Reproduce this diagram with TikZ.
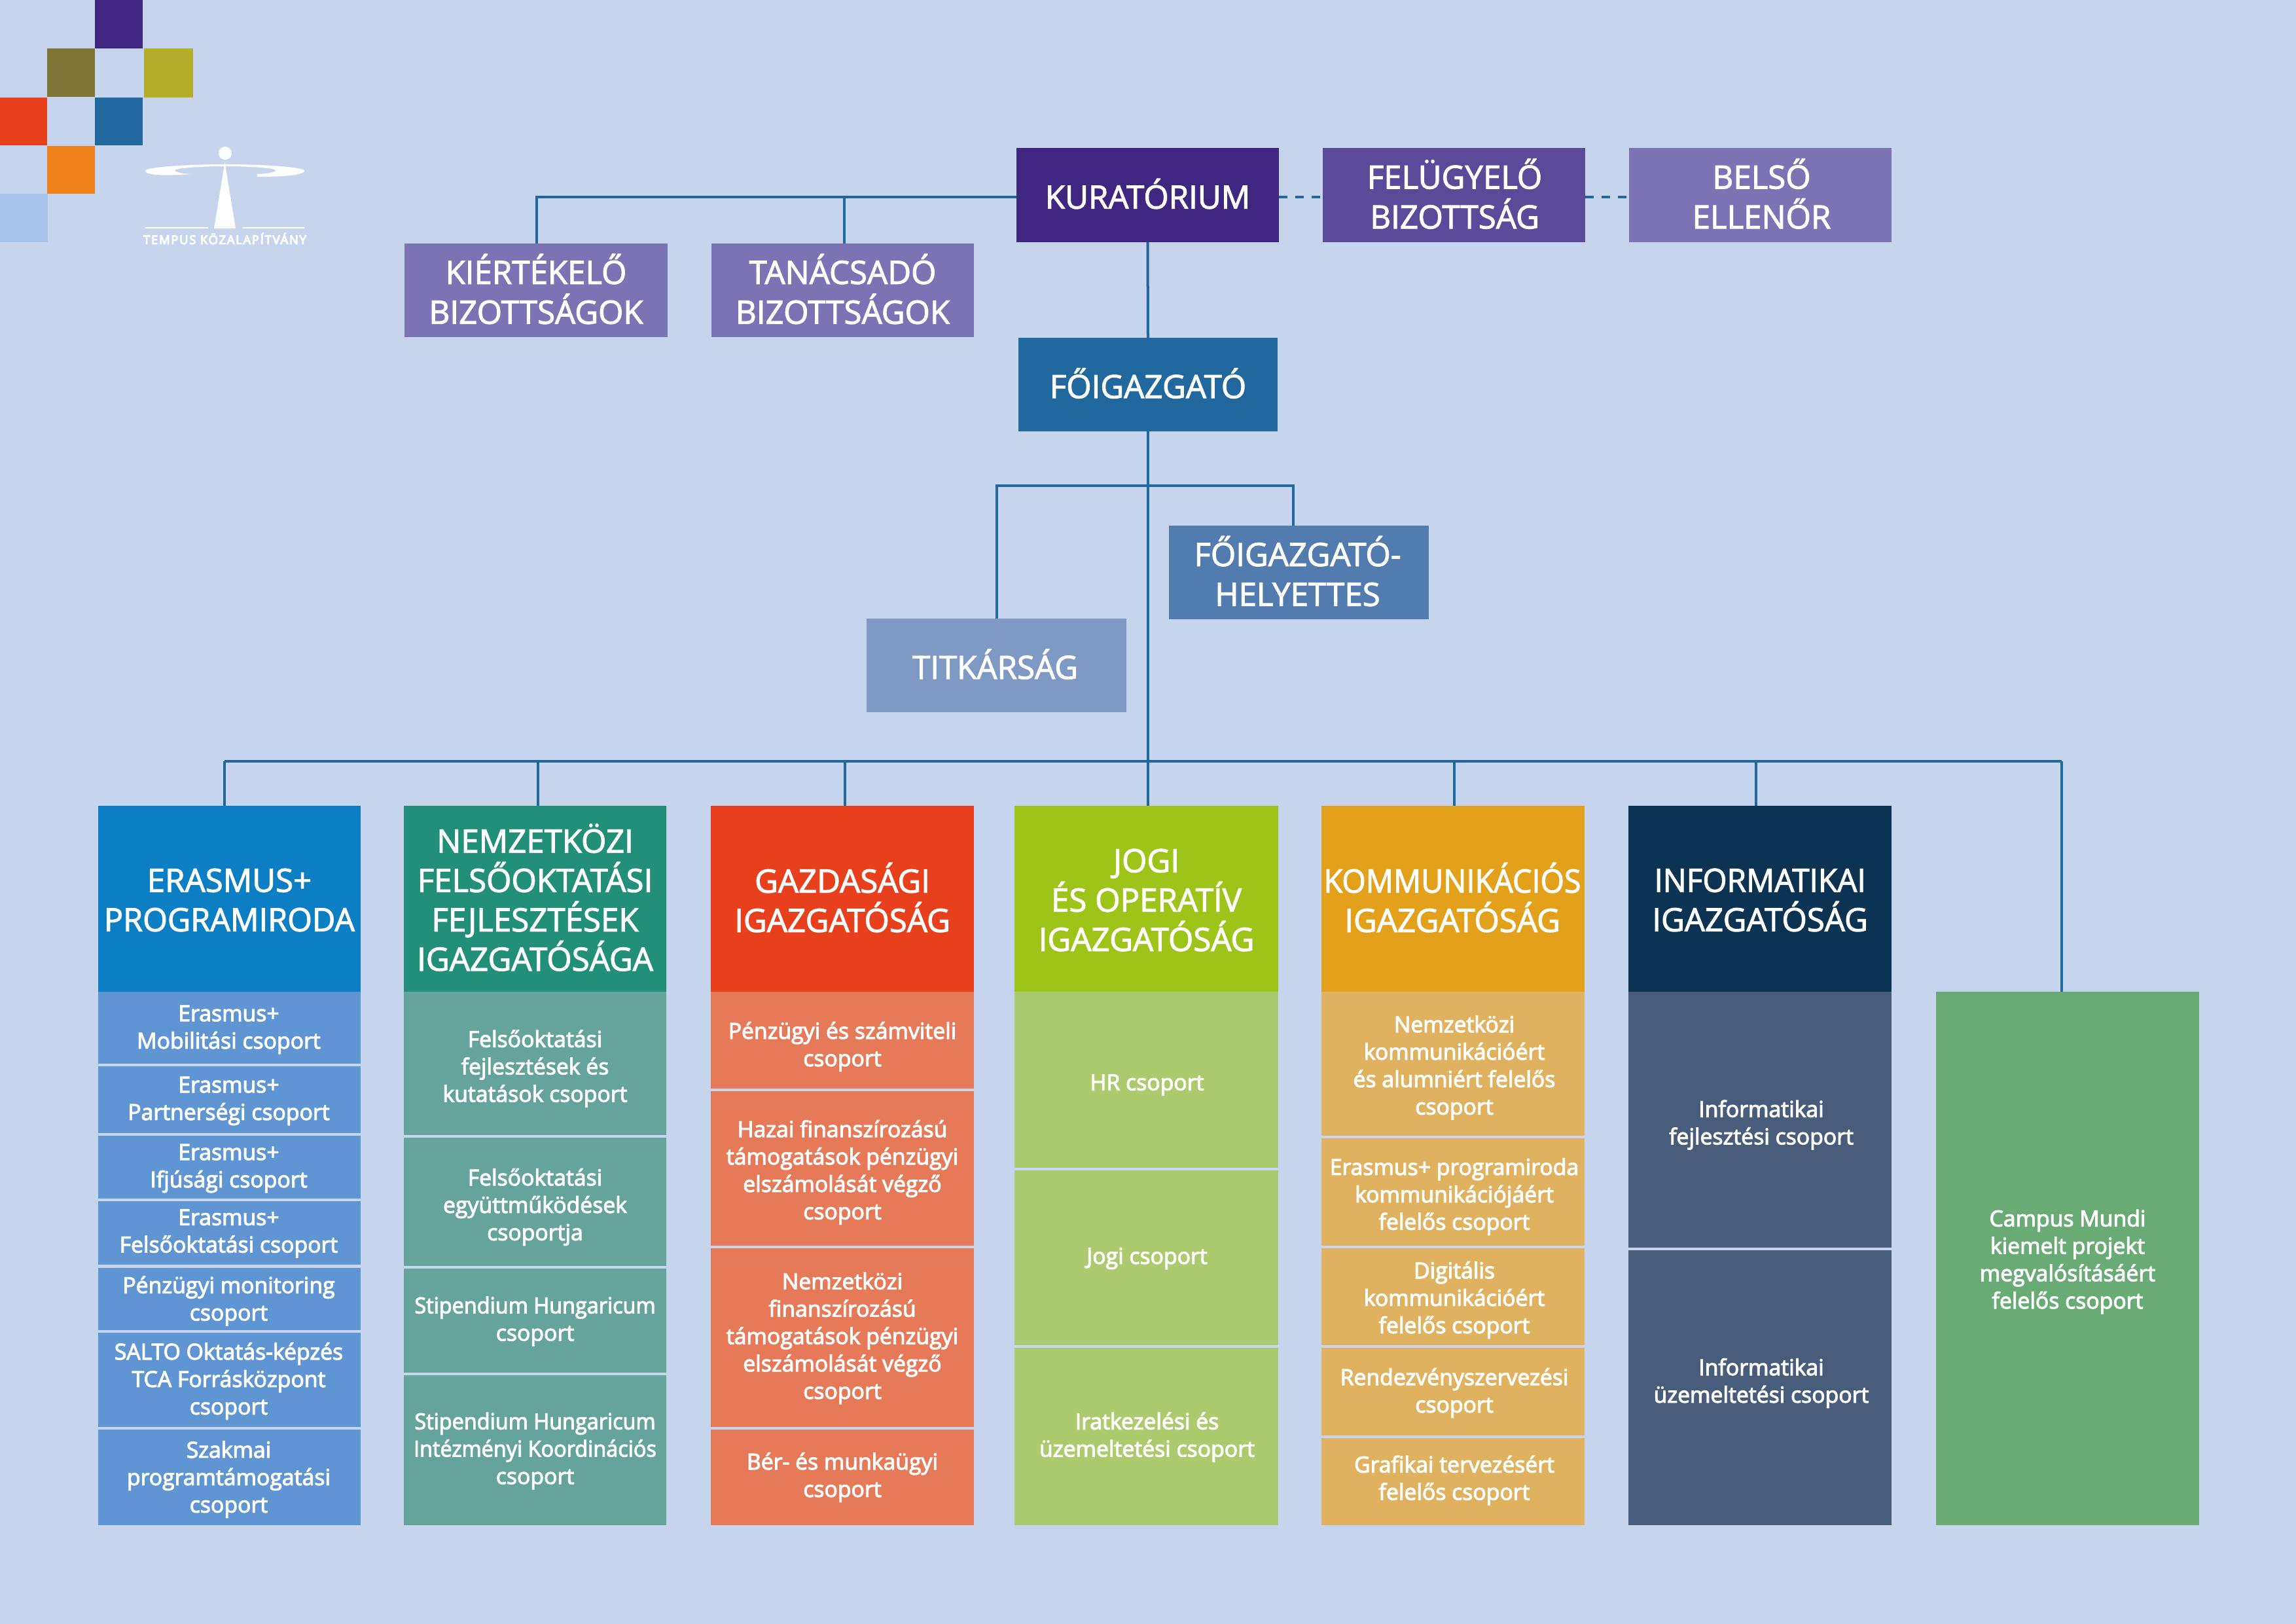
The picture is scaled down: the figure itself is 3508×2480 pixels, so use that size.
\documentclass[tikz,border=0pt]{standalone}
\usepackage{fontspec}
\setmainfont{Open Sans}
\usetikzlibrary{calc}
\definecolor{bgc}{HTML}{C6D4EE}
\definecolor{line}{HTML}{20689D}
\definecolor{kurc}{HTML}{3F2781}
\definecolor{felc}{HTML}{5B4A99}
\definecolor{belc}{HTML}{7C73B5}
\definecolor{foc}{HTML}{20689D}
\definecolor{helc}{HTML}{527CAF}
\definecolor{titc}{HTML}{7D99C4}
\definecolor{hA}{HTML}{0C7EC3}\definecolor{sA}{HTML}{5E95D2}
\definecolor{hB}{HTML}{228F78}\definecolor{sB}{HTML}{64A49A}
\definecolor{hC}{HTML}{E8401C}\definecolor{sC}{HTML}{E57958}
\definecolor{hD}{HTML}{9EC41A}\definecolor{sD}{HTML}{ADCB6E}
\definecolor{hE}{HTML}{E3A11B}\definecolor{sE}{HTML}{E0B25F}
\definecolor{hF}{HTML}{0C3452}\definecolor{sF}{HTML}{485D7B}
\definecolor{sG}{HTML}{69AB74}
\definecolor{sqolive}{HTML}{807536}
\definecolor{sqyel}{HTML}{B3AD28}
\definecolor{sqor}{HTML}{F0831E}
\definecolor{sqlb}{HTML}{A7C3E8}
\tikzset{
  areabox/.style={inner sep=0pt,outer sep=0pt},
  boxbase/.style={inner sep=0pt,outer sep=0pt,align=center,text=white},
  topbox/.style={boxbase,font=\fontsize{14}{17.3}\selectfont},
  headbox/.style={boxbase,font=\fontsize{14}{17.1}\selectfont},
  subbox/.style={boxbase,font=\fontsize{9.6}{11.9}\selectfont},
  conn/.style={draw=line,line width=0.04cm},
  dashconn/.style={conn,dash pattern=on 0.13cm off 0.12cm},
}
\newcommand{\strkon}{\special{pdf:code 2 Tr 0.3 w 1 1 1 RG}}
\newcommand{\strkoff}{\special{pdf:code 0 Tr}}
% \rb{name}{style}{fill}{x1}{y1}{x2}{y2}{dx,dy}{text}
\newcommand{\rb}[9]{\pgfmathsetmacro{\wdt}{#6-#4}\pgfmathsetmacro{\hgt}{#7-#5}%
  \node[areabox,fill=#3,minimum width=\wdt*0.01cm,minimum height=\hgt*0.01cm] (#1) at ({(#4+#6)/2},{(#5+#7)/2}) {};%
  \node[#2] (#1t) at ($(#1.center)+(#8)$) {\strkon #9\strkoff};}
\begin{document}
\begin{tikzpicture}[x=0.01cm,y=-0.01cm]
\useasboundingbox (0,0) rectangle (3508,2480);
\fill[bgc] (-10,-10) rectangle (3518,2490);
% logo squares
\fill[kurc] (145,0) rectangle (218,74);
\fill[sqolive] (72,74) rectangle (145,148);
\fill[sqyel] (220,74) rectangle (295,149);
\fill[hC] (0,149) rectangle (72,222);
\fill[foc] (145,149) rectangle (218,222);
\fill[sqor] (72,223) rectangle (145,296);
\fill[sqlb] (0,296) rectangle (73,370);
% logo figure
\fill[white] (344,234) circle (10);
\fill[white] (291,266) .. controls (240,270) and (222,266) .. (222,261)
  .. controls (222,255) and (290,251) .. (344,251)
  .. controls (398,251) and (465,255) .. (465,261)
  .. controls (465,266) and (445,270) .. (393,270)
  -- (393,266) .. controls (410,265) and (421,263) .. (421,260)
  .. controls (421,257) and (385,254) .. (344,254)
  .. controls (303,254) and (267,257) .. (267,260)
  .. controls (267,263) and (278,265) .. (291,266) -- (291,270) -- cycle;
\fill[white] (343.5,248) -- (360,349) -- (327,349) -- cycle;
\fill[white] (222,346.5) rectangle (318,349);
\fill[white] (371,346.5) rectangle (465,349);
\node[inner sep=0pt,text=white,font=\fontsize{5.2}{6}\selectfont\addfontfeature{LetterSpace=10}] (logotext) at (343.5,364.5) {\strkon TEMPUS KÖZALAPÍTVÁNY\strkoff};
% top boxes
\rb{kur}{topbox}{kurc}{1553}{226}{1954}{370}{0,-2}{KURATÓRIUM}
\rb{fel}{topbox}{felc}{2021}{226}{2422}{370}{1,-2}{FELÜGYELŐ\\BIZOTTSÁG}
\rb{bel}{topbox}{belc}{2489}{226}{2890}{370}{2,-2}{BELSŐ\\ELLENŐR}
\rb{kie}{topbox}{belc}{618}{372}{1020}{515}{0,-2}{KIÉRTÉKELŐ\\BIZOTTSÁGOK}
\rb{tan}{topbox}{belc}{1087}{372}{1488}{515}{0,-2}{TANÁCSADÓ\\BIZOTTSÁGOK}
\rb{fo}{topbox}{foc}{1556}{516}{1952}{659}{0,-2}{FŐIGAZGATÓ}
\rb{hel}{topbox}{helc}{1786}{803}{2183}{946}{-2,-2}{FŐIGAZGATÓ-\\HELYETTES}
\rb{tit}{topbox}{titc}{1324}{945}{1721}{1088}{-2,-2}{TITKÁRSÁG}
% column heads
\rb{hA}{headbox}{hA}{150}{1231}{551}{1515}{0,2}{ERASMUS+\\\scalebox{0.985}[1]{PROGRAMIRODA}}
\rb{hB}{headbox}{hB}{617}{1231}{1018}{1515}{0,-2}{NEMZETKÖZI\\FELSŐOKTATÁSI\\FEJLESZTÉSEK\\IGAZGATÓSÁGA}
\rb{hC}{headbox}{hC}{1086}{1231}{1488}{1515}{0,-2}{GAZDASÁGI\\IGAZGATÓSÁG}
\rb{hD}{headbox}{hD}{1550}{1231}{1953}{1515}{0,2}{JOGI\\ÉS OPERATÍV\\IGAZGATÓSÁG}
\rb{hE}{headbox}{hE}{2019}{1231}{2421}{1515}{-1,-2}{\scalebox{0.95}[1]{KOMMUNIKÁCIÓS}\\IGAZGATÓSÁG}
\rb{hF}{headbox}{hF}{2488}{1231}{2890}{1515}{0,2}{\scalebox{0.97}[1]{INFORMATIKAI}\\IGAZGATÓSÁG}
% column A
\rb{a1}{subbox}{sA}{150}{1515}{551}{1625}{-1,3}{Erasmus+\\Mobilitási csoport}
\rb{a2}{subbox}{sA}{150}{1629}{551}{1731}{-1,2}{Erasmus+\\Partnerségi csoport}
\rb{a3}{subbox}{sA}{150}{1735}{551}{1831}{-1,2}{Erasmus+\\Ifjúsági csoport}
\rb{a4}{subbox}{sA}{150}{1835}{551}{1932}{-1,1}{Erasmus+\\Felsőoktatási csoport}
\rb{a5}{subbox}{sA}{150}{1937}{551}{2032}{-1,3}{Pénzügyi monitoring\\csoport}
\rb{a6}{subbox}{sA}{150}{2036}{551}{2180}{-1,2}{SALTO Oktatás-képzés\\TCA Forrásközpont\\csoport}
\rb{a7}{subbox}{sA}{150}{2184}{551}{2330}{-1,3}{Szakmai\\programtámogatási\\csoport}
% column B
\rb{b1}{subbox}{sB}{617}{1515}{1018}{1734}{0,8}{Felsőoktatási\\fejlesztések és\\kutatások csoport}
\rb{b2}{subbox}{sB}{617}{1738}{1018}{1934}{0,8}{Felsőoktatási\\együttműködések\\csoportja}
\rb{b3}{subbox}{sB}{617}{1938}{1018}{2097}{0,1}{\scalebox{0.96}[1]{Stipendium Hungaricum}\\csoport}
\rb{b4}{subbox}{sB}{617}{2101}{1018}{2330}{0,1}{\scalebox{0.96}[1]{Stipendium Hungaricum}\\\scalebox{0.96}[1]{Intézményi Koordinációs}\\csoport}
% column C
\rb{c1}{subbox}{sC}{1086}{1515}{1488}{1663}{0,10}{Pénzügyi és számviteli\\csoport}
\rb{c2}{subbox}{sC}{1086}{1667}{1488}{1903}{0,6}{Hazai finanszírozású\\támogatások pénzügyi\\elszámolását végző\\csoport}
\rb{c3}{subbox}{sC}{1086}{1907}{1488}{2180}{0,1}{Nemzetközi\\finanszírozású\\támogatások pénzügyi\\elszámolását végző\\csoport}
\rb{c4}{subbox}{sC}{1086}{2184}{1488}{2330}{0,0}{Bér- és munkaügyi\\csoport}
% column D
\rb{d1}{subbox}{sD}{1550}{1515}{1953}{1784}{1,8}{HR csoport}
\rb{d2}{subbox}{sD}{1550}{1788}{1953}{2055}{1,1}{Jogi csoport}
\rb{d3}{subbox}{sD}{1550}{2059}{1953}{2330}{1,1}{Iratkezelési és\\üzemeltetési csoport}
% column E
\rb{e1}{subbox}{sE}{2019}{1515}{2421}{1735}{2,6}{Nemzetközi\\kommunikációért\\és alumniért felelős\\csoport}
\rb{e2}{subbox}{sE}{2019}{1739}{2421}{1903}{2,7}{Erasmus+ programiroda\\kommunikációjáért\\felelős csoport}
\rb{e3}{subbox}{sE}{2019}{1907}{2421}{2055}{2,5}{Digitális\\kommunikációért\\felelős csoport}
\rb{e4}{subbox}{sE}{2019}{2059}{2421}{2193}{2,2}{Rendezvényszervezési\\csoport}
\rb{e5}{subbox}{sE}{2019}{2197}{2421}{2330}{2,-2}{Grafikai tervezésért\\felelős csoport}
% column F
\rb{f1}{subbox}{sF}{2488}{1515}{2890}{1906}{2,8}{Informatikai\\fejlesztési csoport}
\rb{f2}{subbox}{sF}{2488}{1910}{2890}{2330}{2,-7}{Informatikai\\üzemeltetési csoport}
% column G
\rb{g1}{subbox}{sG}{2958}{1515}{3360}{2330}{0,5}{Campus Mundi\\kiemelt projekt\\megvalósításáért\\felelős csoport}
% connector anchors
\coordinate (kl) at ($(kur.west)+(0,3)$);
\coordinate (kr) at ($(kur.east)+(0,3)$);
\coordinate (fl) at ($(fel.west)+(0,3)$);
\coordinate (fr) at ($(fel.east)+(0,3)$);
\coordinate (bl) at ($(bel.west)+(0,3)$);
\coordinate (kst) at (820,301);
\coordinate (tst) at (1290,301);
\coordinate (brm) at (1754,742);
\coordinate (brr) at (1976,742);
\coordinate (busL) at (343,1163);
\coordinate (busB) at (822,1163);
\coordinate (busC) at (1291,1163);
\coordinate (busM) at (1754,1163);
\coordinate (busE) at (2222,1163);
\coordinate (busF) at (2683,1163);
\coordinate (busR) at (3150,1163);
% connectors
\draw[conn] (kl) -- (kst) -- (kst |- kie.north);
\draw[conn] (tst) -- (tst |- tan.north);
\draw[dashconn] (kr) -- (fl);
\draw[dashconn] (fr) -- (bl);
\draw[conn] (kur.south) -- (fo.north);
\draw[conn] (fo.south) -- (fo.south |- hD.north);
\draw[conn] (tit.north) |- (brm);
\draw[conn] (brm) -- (brr) -- (brr |- hel.north);
\draw[conn] (busL) -- (busR);
\draw[conn] (busL) -- (busL |- hA.north);
\draw[conn] (busB) -- (busB |- hB.north);
\draw[conn] (busC) -- (busC |- hC.north);
\draw[conn] (busE) -- (busE |- hE.north);
\draw[conn] (busF) -- (busF |- hF.north);
\draw[conn] (busR) -- (busR |- g1.north);
\end{tikzpicture}
\end{document}
